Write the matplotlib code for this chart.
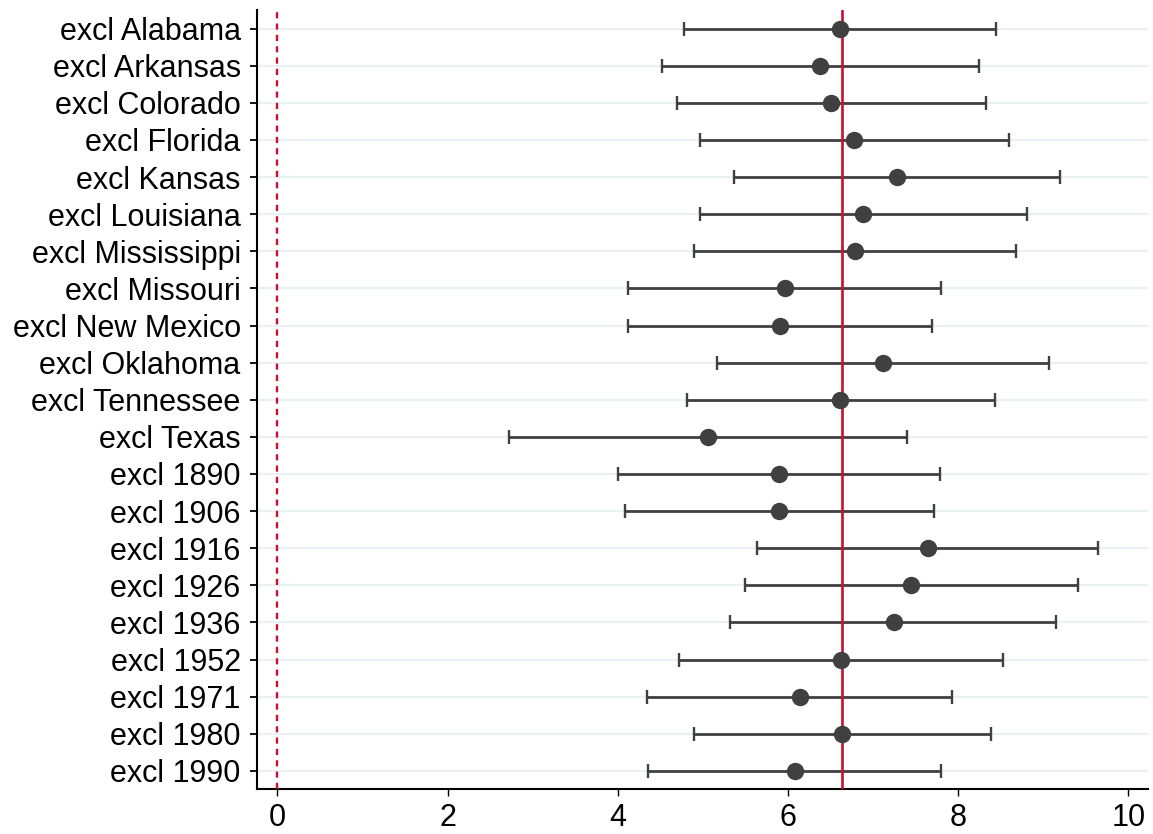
import matplotlib
matplotlib.use("Agg")
import matplotlib.pyplot as plt
import numpy as np

plt.rcParams['font.family'] = ['Liberation Sans', 'DejaVu Sans']

labels = ["excl Alabama", "excl Arkansas", "excl Colorado", "excl Florida",
          "excl Kansas", "excl Louisiana", "excl Mississippi", "excl Missouri",
          "excl New Mexico", "excl Oklahoma", "excl Tennessee", "excl Texas",
          "excl 1890", "excl 1906", "excl 1916", "excl 1926", "excl 1936",
          "excl 1952", "excl 1971", "excl 1980", "excl 1990"]
coef = [6.61, 6.38, 6.51, 6.78, 7.28, 6.88, 6.79, 5.96, 5.91, 7.12, 6.61,
        5.06, 5.89, 5.89, 7.64, 7.45, 7.24, 6.62, 6.14, 6.64, 6.08]
ci_lo = [4.78, 4.52, 4.70, 4.96, 5.37, 4.96, 4.90, 4.12, 4.12, 5.17, 4.81,
         2.72, 4.00, 4.08, 5.64, 5.50, 5.32, 4.72, 4.34, 4.89, 4.36]
ci_hi = [8.44, 8.24, 8.33, 8.60, 9.20, 8.81, 8.68, 7.80, 7.69, 9.07, 8.43,
         7.40, 7.79, 7.71, 9.64, 9.41, 9.15, 8.52, 7.93, 8.38, 7.80]
baseline = 6.63
xticks = [0, 2, 4, 6, 8, 10]

dark = "#404040"
red = "#C8102E"

coef = np.array(coef)
lo = coef - np.array(ci_lo)
hi = np.array(ci_hi) - coef
y = np.arange(len(labels))

fig = plt.figure(figsize=(11.53, 8.34), dpi=100)
ax = fig.add_axes([0.2232, 0.0534, 0.7725, 0.9346])

# light horizontal guides
for yy in y:
    ax.axhline(yy, color="#EAF1F3", lw=1.6, zorder=0)

ax.errorbar(coef, y, xerr=[lo, hi], fmt="none", ecolor=dark,
            elinewidth=2.0, capsize=5, capthick=1.7, zorder=2)
ax.axvline(0, color=red, lw=1.7, linestyle=(0, (2.6, 2.2)), zorder=3)
ax.axvline(baseline, color=red, lw=1.9, zorder=3)
ax.plot(coef, y, "o", color=dark, ms=11.5, zorder=4)

ax.set_xlim(-0.235, 10.23)
ax.set_ylim(20.5, -0.5)
ax.set_yticks(y)
ax.set_yticklabels(labels)
ax.set_xticks(xticks)
ax.set_xticklabels([str(v) for v in xticks])

for s in ["top", "right"]:
    ax.spines[s].set_visible(False)
for s in ["left", "bottom"]:
    ax.spines[s].set_linewidth(1.5)
    ax.spines[s].set_color("black")

ax.tick_params(axis="y", length=5, width=1.3, pad=7, labelsize=22)
ax.tick_params(axis="x", length=5, width=1.0, pad=5, labelsize=22)

fig.savefig("out.png", dpi=100)
